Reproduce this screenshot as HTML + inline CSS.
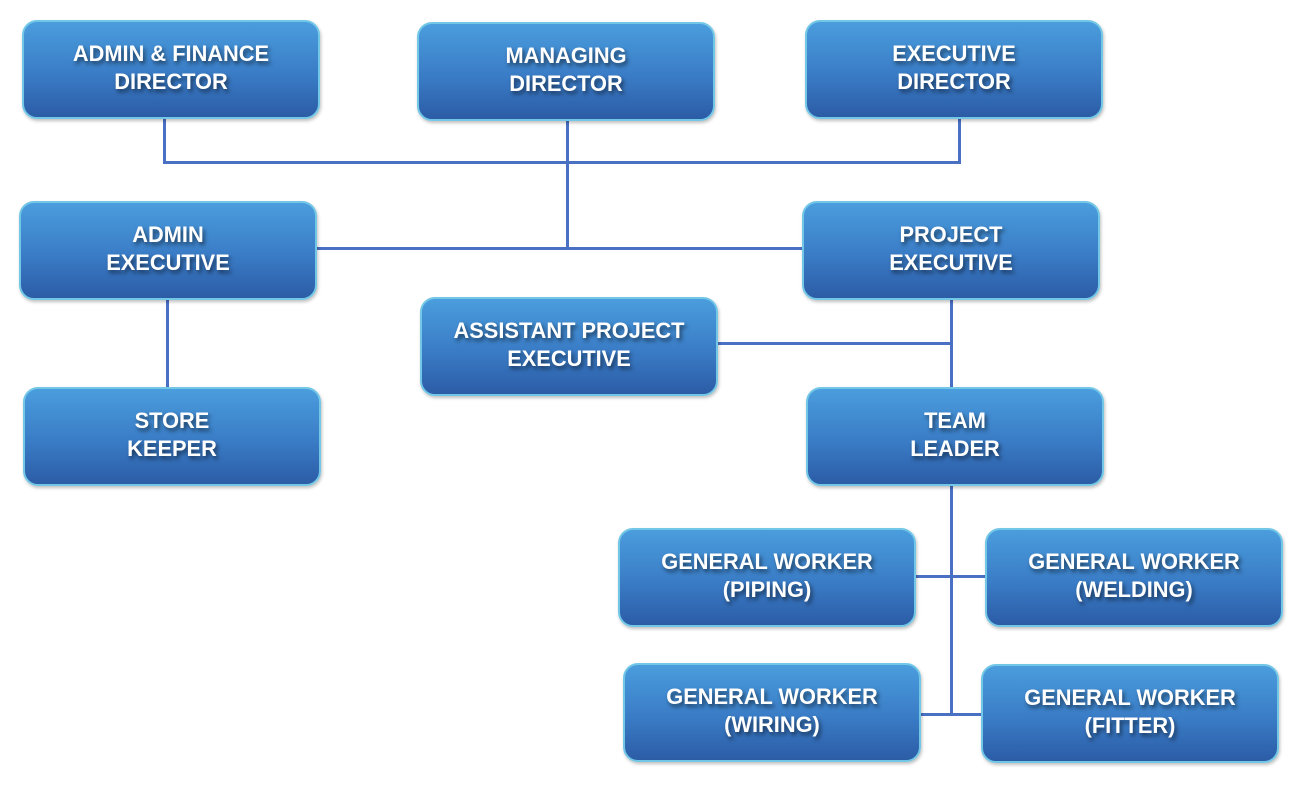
<!DOCTYPE html>
<html><head><style>
body{margin:0;width:1300px;height:790px;background:#fff;position:relative;overflow:hidden;font-family:"Liberation Sans",Arial,sans-serif}
.b{position:absolute;width:294px;height:95px;border:2px solid #72c6e6;border-radius:15px;background:linear-gradient(#4a9ddd,#3a7cc6 55%,#2c5ca6);box-shadow:1px 2px 3px rgba(0,0,0,.25);display:flex;align-items:center;justify-content:center;text-align:center;color:#fff;font-weight:bold;font-size:21.8px;line-height:28px;text-shadow:2px 3px 4px rgba(0,0,0,.55);box-sizing:content-box;padding-bottom:4px;height:91px}
.h,.v{position:absolute;background:#4a70c4}
.h{height:3px}.v{width:3px}
</style></head><body>
<div class="v" style="left:163px;top:118px;height:45px"></div>
<div class="h" style="left:163px;top:161px;width:798px"></div>
<div class="v" style="left:958px;top:118px;height:45px"></div>
<div class="v" style="left:566px;top:120px;height:129px"></div>
<div class="h" style="left:316px;top:247px;width:488px"></div>
<div class="v" style="left:166px;top:298px;height:90px"></div>
<div class="v" style="left:950px;top:298px;height:90px"></div>
<div class="h" style="left:717px;top:342px;width:235px"></div>
<div class="v" style="left:950px;top:483px;height:233px"></div>
<div class="h" style="left:915px;top:575px;width:71px"></div>
<div class="h" style="left:920px;top:713px;width:62px"></div>

<div class="b" style="left:22px;top:20px">ADMIN &amp; FINANCE<br>DIRECTOR</div>
<div class="b" style="left:417px;top:22px">MANAGING<br>DIRECTOR</div>
<div class="b" style="left:805px;top:20px">EXECUTIVE<br>DIRECTOR</div>
<div class="b" style="left:19px;top:201px">ADMIN<br>EXECUTIVE</div>
<div class="b" style="left:802px;top:201px">PROJECT<br>EXECUTIVE</div>
<div class="b" style="left:420px;top:297px">ASSISTANT PROJECT<br>EXECUTIVE</div>
<div class="b" style="left:23px;top:387px">STORE<br>KEEPER</div>
<div class="b" style="left:806px;top:387px">TEAM<br>LEADER</div>
<div class="b" style="left:618px;top:528px">GENERAL WORKER<br>(PIPING)</div>
<div class="b" style="left:985px;top:528px">GENERAL WORKER<br>(WELDING)</div>
<div class="b" style="left:623px;top:663px">GENERAL WORKER<br>(WIRING)</div>
<div class="b" style="left:981px;top:664px">GENERAL WORKER<br>(FITTER)</div>
</body></html>
